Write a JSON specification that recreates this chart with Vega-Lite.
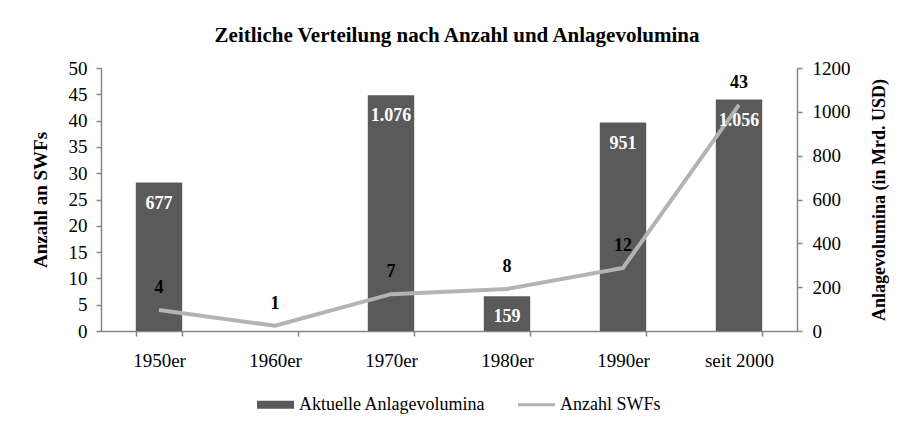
{
  "$schema": "https://vega.github.io/schema/vega-lite/v6.json",
  "width": 696,
  "height": 263,
  "autosize": {"type": "none"},
  "padding": {"left": 101, "top": 68, "right": 101, "bottom": 96},
  "background": "white",
  "title": {
    "text": "Zeitliche Verteilung nach Anzahl und Anlagevolumina",
    "font": "Liberation Serif", "fontSize": 21, "fontWeight": "bold", "color": "#000",
    "anchor": "middle", "offset": 13, "dx": 8
  },
  "data": {
    "values": [
      {"period": "1950er", "volume": 677, "count": 4},
      {"period": "1960er", "volume": null, "count": 1},
      {"period": "1970er", "volume": 1076, "count": 7},
      {"period": "1980er", "volume": 159, "count": 8},
      {"period": "1990er", "volume": 951, "count": 12},
      {"period": "seit 2000", "volume": 1056, "count": 43}
    ]
  },
  "encoding": {
    "x": {
      "field": "period", "type": "nominal", "sort": null,
      "scale": {"domain": ["1950er", "1960er", "1970er", "1980er", "1990er", "seit 2000"], "paddingInner": 0.6, "paddingOuter": 0.3},
      "axis": {
        "title": null, "labelAngle": 0, "tickBand": "extent", "tickSize": 5,
        "labelPadding": 15, "labelFontSize": 19
      }
    }
  },
  "layer": [
    {
      "transform": [{"filter": "datum.volume != null"}],
      "mark": {"type": "bar", "color": "#5a5a5a"},
      "encoding": {
        "y": {
          "field": "volume", "type": "quantitative",
          "scale": {"domain": [0, 1200], "nice": false},
          "axis": {
            "orient": "right", "title": "Anlagevolumina  (in Mrd. USD)", "titleAngle": 270,
            "titleFontSize": 18,
            "values": [0, 200, 400, 600, 800, 1000, 1200], "format": "d",
            "labelPadding": 10, "titlePadding": 38
          }
        },
        "color": {
          "datum": "Aktuelle Anlagevolumina", "type": "nominal",
          "scale": {"domain": ["Aktuelle Anlagevolumina", "Anzahl SWFs"], "range": ["#5a5a5a", "#b3b3b3"]},
          "legend": {
            "title": null, "orient": "none", "direction": "horizontal",
            "legendX": 156, "legendY": 318,
            "symbolSize": 1369, "labelOffset": 5, "columnPadding": 32, "labelLimit": 400,
            "labelFont": "Liberation Serif", "labelFontSize": 18, "labelColor": "#000",
            "encode": {
              "symbols": {
                "update": {
                  "shape": {"signal": "datum.value === 'Anzahl SWFs' ? 'M-1,-0.08H1V0.08H-1Z' : 'M-1,-0.22H1V0.22H-1Z'"},
                  "fill": {"signal": "datum.value === 'Anzahl SWFs' ? '#b3b3b3' : '#5a5a5a'"},
                  "stroke": {"value": "transparent"},
                  "strokeWidth": {"value": 0},
                  "opacity": {"value": 1}
                }
              }
            }
          }
        }
      }
    },
    {
      "mark": {"type": "line", "strokeWidth": 4, "color": "#b3b3b3"},
      "encoding": {
        "y": {
          "field": "count", "type": "quantitative",
          "scale": {"domain": [0, 50], "nice": false},
          "axis": {
            "orient": "left", "title": "Anzahl an SWFs",
            "values": [0, 5, 10, 15, 20, 25, 30, 35, 40, 45, 50],
            "labelPadding": 9, "titlePadding": 18
          }
        },
        "color": {"datum": "Anzahl SWFs", "type": "nominal"}
      }
    },
    {
      "transform": [{"filter": "datum.volume != null"}],
      "mark": {"type": "text", "color": "white", "font": "Liberation Serif", "fontSize": 18, "fontWeight": "bold", "baseline": "middle", "dy": 21},
      "encoding": {
        "y": {"field": "volume", "type": "quantitative", "scale": {"domain": [0, 1200], "nice": false}, "axis": null},
        "text": {"field": "volume", "type": "quantitative", "format": ",d"}
      }
    },
    {
      "mark": {"type": "text", "color": "black", "font": "Liberation Serif", "fontSize": 18, "fontWeight": "bold", "baseline": "middle", "dy": -22},
      "encoding": {
        "y": {"field": "count", "type": "quantitative", "scale": {"domain": [0, 50], "nice": false}, "axis": null},
        "text": {"field": "count", "type": "quantitative", "format": "d"}
      }
    }
  ],
  "resolve": {"scale": {"y": "independent"}},
  "config": {
    "locale": {"number": {"decimal": ",", "thousands": ".", "grouping": [3], "currency": ["", " €"]}},
    "view": {"stroke": null},
    "axis": {
      "grid": false,
      "labelFont": "Liberation Serif", "labelFontSize": 19, "labelColor": "#000",
      "titleFont": "Liberation Serif", "titleFontSize": 19, "titleFontWeight": "bold", "titleColor": "#000",
      "domainColor": "#868686", "domainWidth": 1.5, "tickColor": "#868686", "tickWidth": 1.5, "tickSize": 5
    },
    "legend": {"padding": 0}
  }
}
